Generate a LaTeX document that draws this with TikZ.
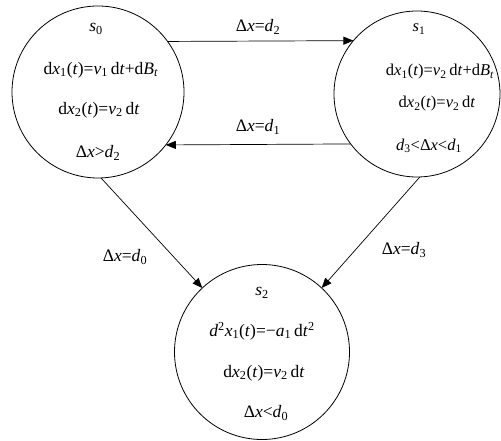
\documentclass[tikz,border=0pt]{standalone}
\usepackage{fontspec}
\setmainfont{Liberation Serif}
\usetikzlibrary{arrows.meta}
\newcommand\iv[1]{\textit{#1}}
\newcommand\sbs[1]{\textsubscript{#1}}
\newcommand\sps[1]{\textsuperscript{#1}}
\begin{document}
\begin{tikzpicture}[x=1pt,y=-1pt,
  state/.style={circle,draw,line width=0.8pt,inner sep=0pt,outer sep=0pt},
  txt/.style={font=\fontsize{17.5}{20}\selectfont,inner sep=0pt},
  stxt/.style={font=\fontsize{16.5}{19}\selectfont,inner sep=0pt},
  arr/.style={-{Triangle[length=10pt,width=8pt]},line width=0.7pt}]
\useasboundingbox (0,0) rectangle (501,441);
\node[state,minimum size=172pt] (s0) at (98,92) {};
\node[state,minimum size=166pt] (s1) at (417,94) {};
\node[state,minimum size=175pt] (s2) at (262,352) {};
% texts s0
\node[txt] (a0) at (96,29) {\iv{s}\sbs{0}};
\node[txt] (a1) at (101,70) {d\iv{x}\sbs{1}(\iv{t})=\iv{v}\sbs{1}\,d\iv{t}+d\iv{B}\sbs{\iv{t}}};
\node[txt] (a2) at (99,110) {d\iv{x}\sbs{2}(\iv{t})=\iv{v}\sbs{2}\,d\iv{t}};
\node[txt] (a3) at (98,153) {Δ\iv{x}>\iv{d}\sbs{2}};
% texts s1
\node[stxt] (b0) at (419,29) {\iv{s}\sbs{1}};
\node[stxt] (b1) at (440,72) {d\iv{x}\sbs{1}(\iv{t})=\iv{v}\sbs{2}\,d\iv{t}+d\iv{B}\sbs{\iv{t}}};
\node[stxt] (b2) at (437,104) {d\iv{x}\sbs{2}(\iv{t})=\iv{v}\sbs{2}\,d\iv{t}};
\node[stxt] (b3) at (429,146) {\iv{d}\sbs{3}<Δ\iv{x}<\iv{d}\sbs{1}};
% texts s2
\node[txt] (c0) at (262,293) {\iv{s}\sbs{2}};
\node[txt] (c1) at (262,331) {\iv{d}\sps{2}\iv{x}\sbs{1}(\iv{t})=−\iv{a}\sbs{1}\,d\iv{t}\sps{2}};
\node[txt] (c2) at (264,373) {d\iv{x}\sbs{2}(\iv{t})=\iv{v}\sbs{2}\,d\iv{t}};
\node[txt] (c3) at (266,413) {Δ\iv{x}<\iv{d}\sbs{0}};
% connectors
\draw[arr] (s0.36.4) -- (s1.140.3);
\draw[arr] (s1.217.9) -- (s0.-38);
\draw[arr] (s0.-88) -- (s2.133);
\draw[arr] (s1.-88) -- (s2.47);
% labels
\node[txt] (l2) at (258,27) {Δ\iv{x}=\iv{d}\sbs{2}};
\node[txt] (l1) at (258,127) {Δ\iv{x}=\iv{d}\sbs{1}};
\node[txt] (l0) at (125,257) {Δ\iv{x}=\iv{d}\sbs{0}};
\node[txt] (l3) at (404,250) {Δ\iv{x}=\iv{d}\sbs{3}};
\end{tikzpicture}
\end{document}
